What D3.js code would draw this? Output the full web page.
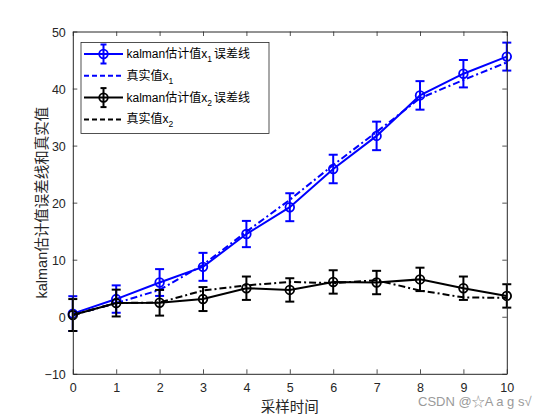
<!DOCTYPE html>
<html>
<head>
<meta charset="utf-8">
<script src="https://cdn.jsdelivr.net/npm/d3@7"></script>
<style>
  body { margin: 0; background: #fff; }
  text { font-family: "Liberation Sans", Arial, "Noto Sans CJK SC", sans-serif; }
</style>
</head>
<body>
<div id="chart"></div>
<script>
'use strict';

// sampling steps and values
var steps  = [0, 1, 2, 3, 4, 5, 6, 7, 8, 9, 10];
var est1   = [0.55, 3.1, 6.0, 8.75, 14.5, 19.2, 25.9, 31.7, 38.8, 42.6, 45.6];
var err1   = [3.05, 2.4, 2.35, 2.45, 2.3, 2.45, 2.5, 2.5, 2.5, 2.4, 2.45];
var true1  = [0.3, 2.4, 4.7, 9.1, 14.9, 20.5, 26.6, 32.4, 38.3, 41.5, 44.6];
var est2   = [0.3, 2.4, 2.45, 3.1, 5.0, 4.7, 6.1, 6.0, 6.55, 5.0, 3.65];
var err2   = [2.8, 2.35, 2.25, 2.1, 2.05, 2.05, 2.05, 2.05, 2.05, 2.05, 2.05];
var true2  = [0.3, 2.4, 2.5, 4.6, 5.5, 6.1, 5.9, 6.4, 4.6, 3.4, 3.3];
var xTicks = [0, 1, 2, 3, 4, 5, 6, 7, 8, 9, 10];
var yTicks = [-10, 0, 10, 20, 30, 40, 50];

var kf = {};
kf.W = 560;
kf.H = 420;
kf.margins = {top: 31.5, left: 72.8, right: 53.2, bottom: 46.2};
kf.cw = kf.W - kf.margins.left - kf.margins.right;
kf.ch = kf.H - kf.margins.top - kf.margins.bottom;
kf.axisColor = '#262626';
kf.blue = '#0000ff';
kf.dashDot = '7,3,2,3';

kf.appendSvg = function (div)
{
    return d3.select(div).append('svg')
        .attr('width', kf.W)
        .attr('height', kf.H);
}

kf.createScales = function ()
{
    kf.xScale = d3.scaleLinear().domain([0, 10]).range([0, kf.cw]);
    kf.yScale = d3.scaleLinear().domain([-10, 50]).range([kf.ch, 0]);
}

kf.createAxes = function (g)
{
    var tl = 4.5;
    var bottom = g.append('g').attr('transform', 'translate(0,' + kf.ch + ')')
        .call(d3.axisBottom(kf.xScale).tickValues(xTicks).tickSizeInner(-tl).tickSizeOuter(0).tickPadding(9));
    var top = g.append('g')
        .call(d3.axisTop(kf.xScale).tickValues(xTicks).tickSizeInner(-tl).tickSizeOuter(0).tickFormat(''));
    var left = g.append('g')
        .call(d3.axisLeft(kf.yScale).tickValues(yTicks).tickSizeInner(-tl).tickSizeOuter(0).tickPadding(7));
    var right = g.append('g').attr('transform', 'translate(' + kf.cw + ',0)')
        .call(d3.axisRight(kf.yScale).tickValues(yTicks).tickSizeInner(-tl).tickSizeOuter(0).tickFormat(''));

    [bottom, top, left, right].forEach(function (a) {
        a.select('.domain').attr('stroke', kf.axisColor).attr('stroke-width', 1);
        a.selectAll('.tick line').attr('stroke', kf.axisColor).attr('stroke-width', 0.8);
        a.selectAll('.tick text')
            .attr('fill', kf.axisColor)
            .style('font-size', '12.5px')
            .style('font-family', '"Liberation Sans", Arial, sans-serif');
    });
    left.selectAll('.tick text').attr('dy', '0.36em');
}

kf.appendLabels = function (svg)
{
    svg.append('text')
        .attr('x', kf.margins.left + kf.cw / 2)
        .attr('y', 412)
        .attr('text-anchor', 'middle')
        .attr('fill', kf.axisColor)
        .style('font-size', '14.5px')
        .style('font-family', '"Noto Sans CJK SC", sans-serif')
        .text('采样时间');

    svg.append('text')
        .attr('transform', 'translate(47,' + (kf.margins.top + kf.ch / 2) + ') rotate(-90)')
        .attr('text-anchor', 'middle')
        .attr('fill', kf.axisColor)
        .style('font-size', '14.5px')
        .style('font-family', '"Liberation Sans", "Noto Sans CJK SC", sans-serif')
        .text('kalman估计值误差线和真实值');

    svg.append('text')
        .attr('x', 418)
        .attr('y', 406)
        .attr('fill', '#9a9a9a')
        .style('font-size', '13px')
        .style('font-family', '"Liberation Sans", "Noto Sans CJK SC", sans-serif')
        .text('CSDN @☆A a g s√');
}

kf.appendErrorSeries = function (g, vals, errs, cor)
{
    var pts = steps.map(function (s, i) { return {x: s, y: vals[i], e: errs[i]}; });
    var line = d3.line()
        .x(function (d) { return kf.xScale(d.x); })
        .y(function (d) { return kf.yScale(d.y); });

    g.append('path')
        .attr('d', line(pts))
        .style('fill', 'none')
        .style('stroke', cor)
        .style('stroke-width', 2);

    var cap = 4.5;
    var bars = g.append('g').selectAll('g').data(pts).enter().append('g');
    bars.append('line')
        .attr('x1', function (d) { return kf.xScale(d.x); })
        .attr('x2', function (d) { return kf.xScale(d.x); })
        .attr('y1', function (d) { return kf.yScale(d.y - d.e); })
        .attr('y2', function (d) { return kf.yScale(d.y + d.e); });
    bars.append('line')
        .attr('x1', function (d) { return kf.xScale(d.x) - cap; })
        .attr('x2', function (d) { return kf.xScale(d.x) + cap; })
        .attr('y1', function (d) { return kf.yScale(d.y + d.e); })
        .attr('y2', function (d) { return kf.yScale(d.y + d.e); });
    bars.append('line')
        .attr('x1', function (d) { return kf.xScale(d.x) - cap; })
        .attr('x2', function (d) { return kf.xScale(d.x) + cap; })
        .attr('y1', function (d) { return kf.yScale(d.y - d.e); })
        .attr('y2', function (d) { return kf.yScale(d.y - d.e); });
    bars.selectAll('line').style('stroke', cor).style('stroke-width', 2);

    g.append('g').selectAll('circle').data(pts).enter()
        .append('circle')
        .attr('cx', function (d) { return kf.xScale(d.x); })
        .attr('cy', function (d) { return kf.yScale(d.y); })
        .attr('r', 4.3)
        .style('fill', 'none')
        .style('stroke', cor)
        .style('stroke-width', 1.8);
}

kf.appendTrueLine = function (g, vals, cor)
{
    var line = d3.line()
        .x(function (d, i) { return kf.xScale(steps[i]); })
        .y(function (d) { return kf.yScale(d); });
    g.append('path')
        .attr('d', line(vals))
        .style('fill', 'none')
        .style('stroke', cor)
        .style('stroke-width', 2)
        .style('stroke-dasharray', kf.dashDot);
}

kf.appendLegend = function (svg)
{
    var items = [
        {name: 'kalman估计值x', sub: '1', tail: '误差线', cor: kf.blue, err: true},
        {name: '真实值x', sub: '1', tail: '', cor: kf.blue, err: false},
        {name: 'kalman估计值x', sub: '2', tail: '误差线', cor: '#000', err: true},
        {name: '真实值x', sub: '2', tail: '', cor: '#000', err: false}
    ];
    var lg = svg.append('g').attr('class', 'legendGroup');
    lg.append('rect')
        .attr('x', 81).attr('y', 42.5)
        .attr('width', 188).attr('height', 91)
        .style('fill', '#fff')
        .style('stroke', kf.axisColor)
        .style('stroke-width', 0.8);

    items.forEach(function (it, i) {
        var y = 54 + i * 21.8;
        var row = lg.append('g');
        var l = row.append('line')
            .attr('x1', 84).attr('x2', 123)
            .attr('y1', y).attr('y2', y)
            .style('stroke', it.cor).style('stroke-width', 2);
        if (it.err) {
            row.append('line').attr('x1', 103.5).attr('x2', 103.5).attr('y1', y - 9.5).attr('y2', y + 9.5);
            row.append('line').attr('x1', 100.5).attr('x2', 106.5).attr('y1', y - 9.5).attr('y2', y - 9.5);
            row.append('line').attr('x1', 100.5).attr('x2', 106.5).attr('y1', y + 9.5).attr('y2', y + 9.5);
            row.selectAll('line').style('stroke', it.cor).style('stroke-width', 2);
            row.append('circle').attr('cx', 103.5).attr('cy', y).attr('r', 4.3)
                .style('fill', 'none').style('stroke', it.cor).style('stroke-width', 1.8);
        } else {
            l.style('stroke-dasharray', '5,3');
        }
        var t = row.append('text')
            .attr('x', 126.5).attr('y', y + 4)
            .attr('fill', '#000')
            .style('font-size', '12px')
            .style('font-family', '"Liberation Sans", "Noto Sans CJK SC", sans-serif');
        t.append('tspan').text(it.name);
        t.append('tspan').attr('dy', 4).style('font-size', '8.5px').text(it.sub);
        if (it.tail) {
            t.append('tspan').attr('dy', -4).attr('dx', 2).text(it.tail);
        }
    });
}

function drawChart()
{
    var svg = kf.appendSvg('#chart');
    var g = svg.append('g')
        .attr('transform', 'translate(' + kf.margins.left + ',' + kf.margins.top + ')');
    kf.createScales();

    kf.appendErrorSeries(g, est1, err1, kf.blue);
    kf.appendTrueLine(g, true1, kf.blue);
    kf.appendErrorSeries(g, est2, err2, '#000');
    kf.appendTrueLine(g, true2, '#000');

    kf.createAxes(g);
    kf.appendLabels(svg);
    kf.appendLegend(svg);
}

drawChart();
</script>
</body>
</html>
